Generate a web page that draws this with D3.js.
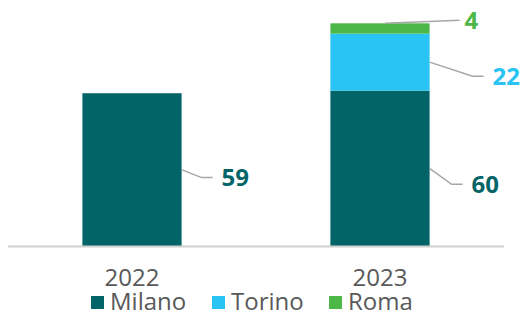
<!DOCTYPE html>
<html>
<head>
<meta charset="utf-8">
<script src="https://cdn.jsdelivr.net/npm/d3@7"></script>
<style>
  body { margin: 0; background: #fff; }
  text { font-family: "Open Sans", sans-serif; }
</style>
</head>
<body>
<div id="container"></div>
<script>
const years = ["2022", "2023"];
const cities = ["Milano", "Torino", "Roma"];
const milano = [59, 60];
const torino = [0, 22];
const roma = [0, 4];

const WIDTH = 529, HEIGHT = 310;
const colors = { Milano: "#036468", Torino: "#29C4F4", Roma: "#4DB848" };

const rows = years.map((y, i) => ({ year: y, Milano: milano[i], Torino: torino[i], Roma: roma[i] }));
const series = d3.stack().keys(cities)(rows);

const svg = d3.select("#container").append("svg")
  .attr("width", WIDTH).attr("height", HEIGHT);

const x = d3.scaleBand().domain(years).range([8, 504]).paddingInner(0.6).paddingOuter(0.3);
const y = d3.scaleLinear().domain([0, 86]).range([246, 23.3]);

series.forEach(s => {
  svg.selectAll(null)
    .data(s.filter(d => d[1] - d[0] > 0))
    .enter().append("rect")
    .attr("x", d => x(d.data.year))
    .attr("width", x.bandwidth())
    .attr("y", d => y(d[1]))
    .attr("height", d => y(d[0]) - y(d[1]))
    .attr("fill", colors[s.key]);
});

// baseline
svg.append("line")
  .attr("x1", 8).attr("x2", 504)
  .attr("y1", y(0) + 0.5).attr("y2", y(0) + 0.5)
  .attr("stroke", "#d0d0d0").attr("stroke-width", 2);

// data labels with leader lines
const labels = [];
series.forEach(s => {
  s.forEach(d => {
    const v = d[1] - d[0];
    if (v > 0) labels.push({ key: s.key, year: d.data.year, v: v, y0: d[0], y1: d[1] });
  });
});
// leader shape: [slant dx, slant dy, flat run]
const leader = { "2022Milano": [20, 8, 11], "2023Milano": [22, 16, 11], "2023Torino": [43, 14, 11] };

labels.forEach(l => {
  const right = x(l.year) + x.bandwidth();
  let pts, lx, ly;
  if (l.key === "Roma") {
    const ty = y(l.y1);
    pts = [[x(l.year) + x.bandwidth() / 2 + 5, ty], [right + 30, ty - 3]];
    lx = right + 35; ly = ty - 3;
  } else {
    const my = y((l.y0 + l.y1) / 2);
    const [sx, sy, run] = leader[l.year + l.key];
    pts = [[right, my], [right + sx, my + sy], [right + sx + run, my + sy]];
    lx = right + sx + run + 9; ly = my + sy;
  }
  svg.append("path")
    .attr("d", d3.line()(pts))
    .attr("fill", "none").attr("stroke", "#a6a6a6").attr("stroke-width", 1.5);
  svg.append("text")
    .attr("x", lx).attr("y", ly).attr("dy", "0.36em")
    .attr("font-size", 24).attr("font-weight", 700)
    .attr("fill", colors[l.key])
    .text(l.v);
});

// x axis labels
svg.selectAll(null).data(years).enter().append("text")
  .attr("x", d => x(d) + x.bandwidth() / 2)
  .attr("y", 286)
  .attr("text-anchor", "middle")
  .attr("font-size", 24)
  .attr("fill", "#595959")
  .text(d => d);

// legend
const legendX = [91, 212, 329];
const lg = svg.selectAll(null).data(cities).enter().append("g")
  .attr("transform", (d, i) => `translate(${legendX[i]},0)`);
lg.append("rect").attr("x", 0).attr("y", 296).attr("width", 13).attr("height", 13)
  .attr("fill", d => colors[d]);
lg.append("text").attr("x", 19).attr("y", 310)
  .attr("font-size", 24).attr("fill", "#595959")
  .text(d => d);
</script>
</body>
</html>
